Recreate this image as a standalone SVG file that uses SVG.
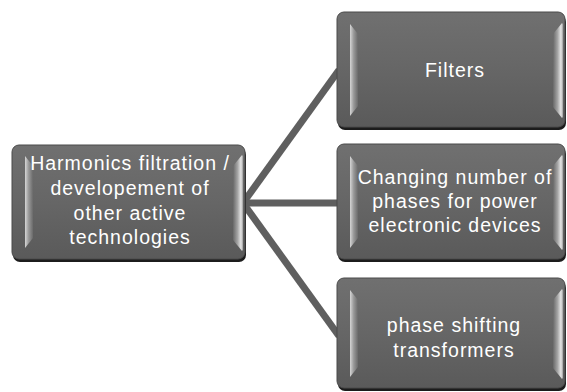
<svg xmlns="http://www.w3.org/2000/svg" width="567" height="392" viewBox="0 0 567 392">
  <defs>
    <linearGradient id="body" x1="0" y1="0" x2="0" y2="1">
      <stop offset="0" stop-color="#707070"/>
      <stop offset="0.5" stop-color="#666666"/>
      <stop offset="1" stop-color="#5a5a5a"/>
    </linearGradient>
    <linearGradient id="bevelL" x1="0" y1="0" x2="1" y2="0">
      <stop offset="0" stop-color="#d6d6d6"/>
      <stop offset="0.45" stop-color="#9a9a9a"/>
      <stop offset="1" stop-color="#6a6a6a"/>
    </linearGradient>
    <linearGradient id="bevelR" x1="0" y1="0" x2="1" y2="0">
      <stop offset="0" stop-color="#686868"/>
      <stop offset="0.45" stop-color="#a4a4a4"/>
      <stop offset="0.8" stop-color="#e6e6e6"/>
      <stop offset="1" stop-color="#9c9c9c"/>
    </linearGradient>
    <style>
      .shadow { fill: #1c1c1c; }
      .box { fill: url(#body); stroke: #4a4a4a; stroke-width: 1; }
      .bl { fill: url(#bevelL); }
      .br { fill: url(#bevelR); }
      .label { fill: #ffffff; font-family: "Liberation Sans", Arial, sans-serif; font-size: 19.5px; letter-spacing: 1px; text-anchor: middle; }
      .link { stroke: #5f5f5f; stroke-width: 7; fill: none; stroke-linecap: butt; }
    </style>
  </defs>

  <rect width="567" height="392" fill="#ffffff"/>

  <!-- connectors from the root to each branch -->
  <g id="connectors">
    <line class="link" x1="243" y1="203" x2="339" y2="70"/>
    <line class="link" x1="243" y1="203" x2="339" y2="203"/>
    <line class="link" x1="243" y1="203" x2="339" y2="336"/>
  </g>

  <!-- root node -->
  <g id="root">
    <rect class="shadow" x="13" y="148" width="233" height="114" rx="7"/>
    <rect class="box" x="12" y="145" width="233" height="114" rx="7"/>
    <polygon class="bl" points="25,156 33,166 33,238 25,248"/>
    <polygon class="br" points="233,166 242,155 243,156 243,250 242,251 233,240"/>
    <text class="label" x="130" y="170">Harmonics filtration /</text>
    <text class="label" x="130" y="195">developement of</text>
    <text class="label" x="130" y="220">other active</text>
    <text class="label" x="130" y="244">technologies</text>
  </g>

  <!-- branch: filters -->
  <g id="filters">
    <rect class="shadow" x="338" y="15" width="228" height="115" rx="7"/>
    <rect class="box" x="337" y="12" width="228" height="115" rx="7"/>
    <polygon class="bl" points="350,24 358,34 358,106 350,116"/>
    <polygon class="br" points="553,34 562,23 563,24 563,117 562,118 553,107"/>
    <text class="label" x="455" y="77">Filters</text>
  </g>

  <!-- branch: changing number of phases -->
  <g id="phases">
    <rect class="shadow" x="338" y="147" width="228" height="115" rx="7"/>
    <rect class="box" x="337" y="144" width="228" height="115" rx="7"/>
    <polygon class="bl" points="350,156 358,166 358,238 350,248"/>
    <polygon class="br" points="553,166 562,155 563,156 563,249 562,250 553,239"/>
    <text class="label" x="455" y="184">Changing number of</text>
    <text class="label" x="455" y="208">phases for power</text>
    <text class="label" x="455" y="232">electronic devices</text>
  </g>

  <!-- branch: phase shifting transformers -->
  <g id="transformers">
    <rect class="shadow" x="338" y="281" width="228" height="110" rx="7"/>
    <rect class="box" x="337" y="278" width="228" height="110" rx="7"/>
    <polygon class="bl" points="350,290 358,300 358,367 350,377"/>
    <polygon class="br" points="553,300 562,289 563,290 563,378 562,379 553,368"/>
    <text class="label" x="454" y="332">phase shifting</text>
    <text class="label" x="454" y="357">transformers</text>
  </g>
</svg>
